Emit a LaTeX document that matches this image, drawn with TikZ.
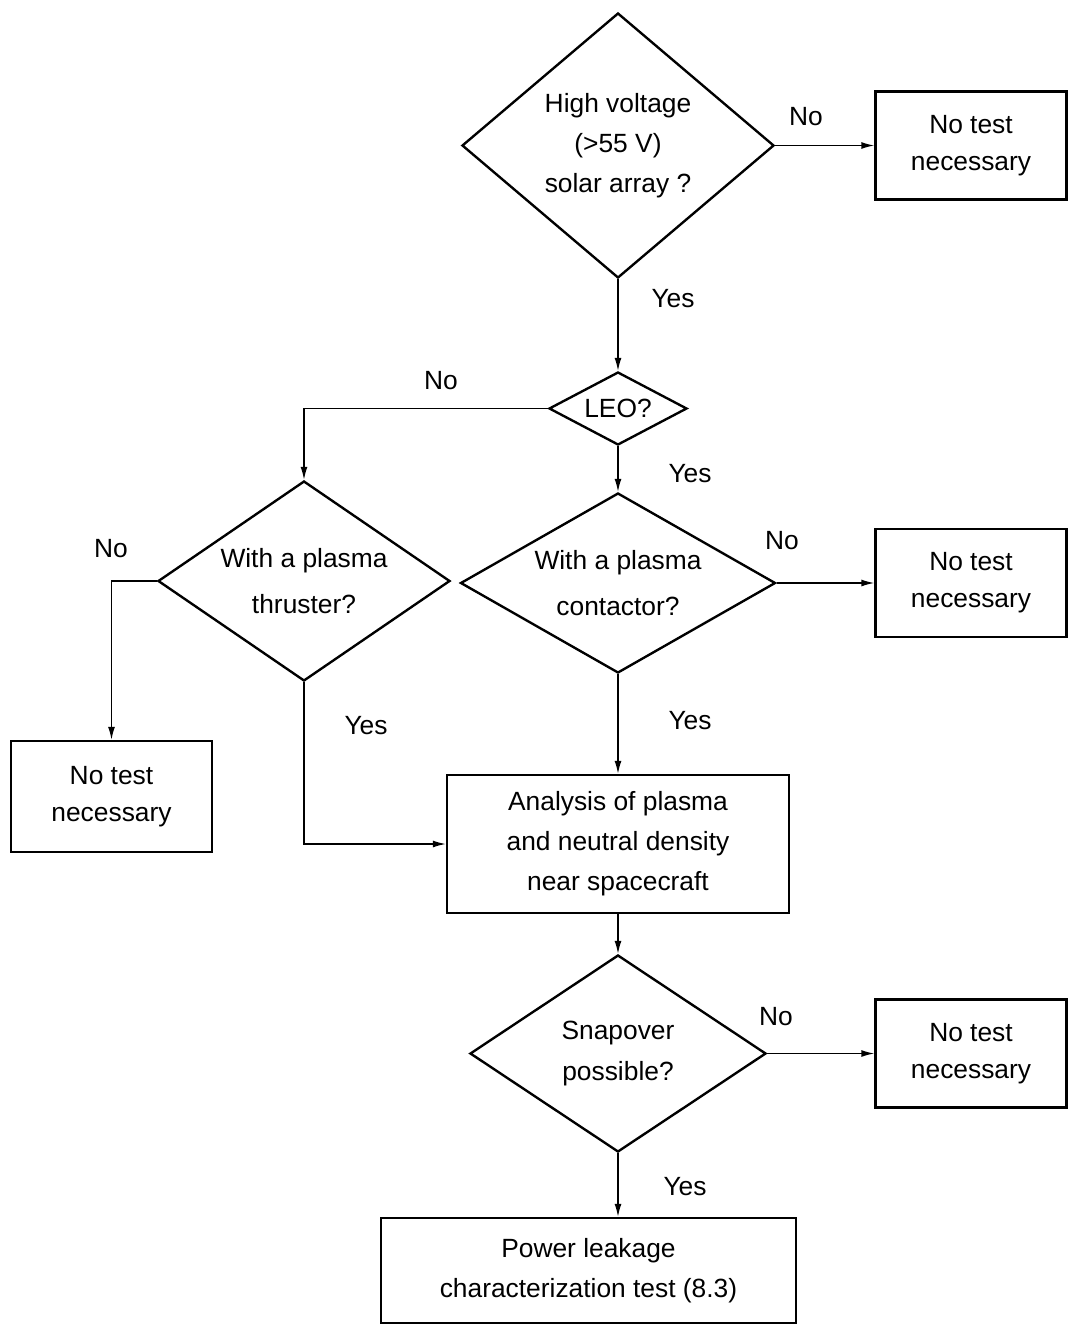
\documentclass[tikz,border=0pt]{standalone}
\usepackage{fontspec}
\setmainfont{Liberation Sans}
\usetikzlibrary{shapes.geometric,arrows.meta}

\begin{document}
\begin{tikzpicture}[x=0.2mm,y=-0.2mm,
    every node/.style={font=\fontsize{15}{22.8}\selectfont},
    decision/.style={draw,line width=1.35pt,diamond,inner sep=0pt,align=center},
    block/.style={draw,line width=1.35pt,rectangle,inner sep=0pt,align=center},
    conn/.style={line width=0.8pt,-{Latex[length=2.6mm,width=1.4mm]}}]
    \useasboundingbox (0,0) rectangle (1068,1325);

    % decisions
    \node[decision,minimum width=62.4mm,minimum height=53mm] (hv) at (618,145.5)
        {High voltage\\(>55 V)\\solar array ?};
    \node[decision,aspect=1.9,minimum width=27.6mm,minimum height=14.6mm] (leo) at (618,408.5) {LEO?};
    \node[decision,aspect=1.5,minimum width=58.4mm,minimum height=40mm] (thr) at (304,581)
        {With a plasma\\[1.2mm]thruster?};
    \node[decision,aspect=1.75,minimum width=63mm,minimum height=36mm] (con) at (618,583)
        {With a plasma\\[1.2mm]contactor?};
    \node[decision,minimum width=59.2mm,minimum height=39.4mm] (snap) at (618,1053.5)
        {Snapover\\possible?};

    % boxes
    \node[block,minimum width=38.2mm,minimum height=21.6mm] (nt1) at (971,145.5)
        {No test\\[-0.6mm]necessary};
    \node[block,minimum width=38.2mm,minimum height=21.6mm] (nt2) at (971,583)
        {No test\\[-0.6mm]necessary};
    \node[block,minimum width=38.2mm,minimum height=21.6mm] (nt4) at (971,1053.5)
        {No test\\[-0.6mm]necessary};
    \node[block,minimum width=40.2mm,minimum height=22.2mm] (nt3) at (111.5,796.5)
        {No test\\[-0.6mm]necessary};
    \node[block,minimum width=68.4mm,minimum height=27.6mm] (ana) at (618,844)
        {Analysis of plasma\\and neutral density\\near spacecraft};
    \node[block,minimum width=83mm,minimum height=21mm] (fin) at (588.5,1270.5)
        {Power leakage\\characterization test (8.3)};

    \draw[conn] (hv.east) -- (nt1.west);
    \draw[conn] (hv.south) -- (leo.north);
    \draw[conn] (leo.west) -| (thr.north);
    \draw[conn] (leo.south) -- (con.north);
    \draw[conn] (con.east) -- (nt2.west);
    \draw[conn] (thr.west) -| (nt3.north);
    \draw[conn] (thr.south) |- (ana.west);
    \draw[conn] (con.south) -- (ana.north);
    \draw[conn] (ana.south) -- (snap.north);
    \draw[conn] (snap.east) -- (nt4.west);
    \draw[conn] (snap.south) -- (snap.south |- fin.north);

    \node (l1) at (806,117) {No};
    \node (l2) at (673,299) {Yes};
    \node (l3) at (441,381) {No};
    \node (l4) at (690,474) {Yes};
    \node (l5) at (111,549) {No};
    \node (l6) at (782,541) {No};
    \node (l7) at (366,726) {Yes};
    \node (l8) at (690,721) {Yes};
    \node (l9) at (776,1017) {No};
    \node (l10) at (685,1187) {Yes};
\end{tikzpicture}
\end{document}
